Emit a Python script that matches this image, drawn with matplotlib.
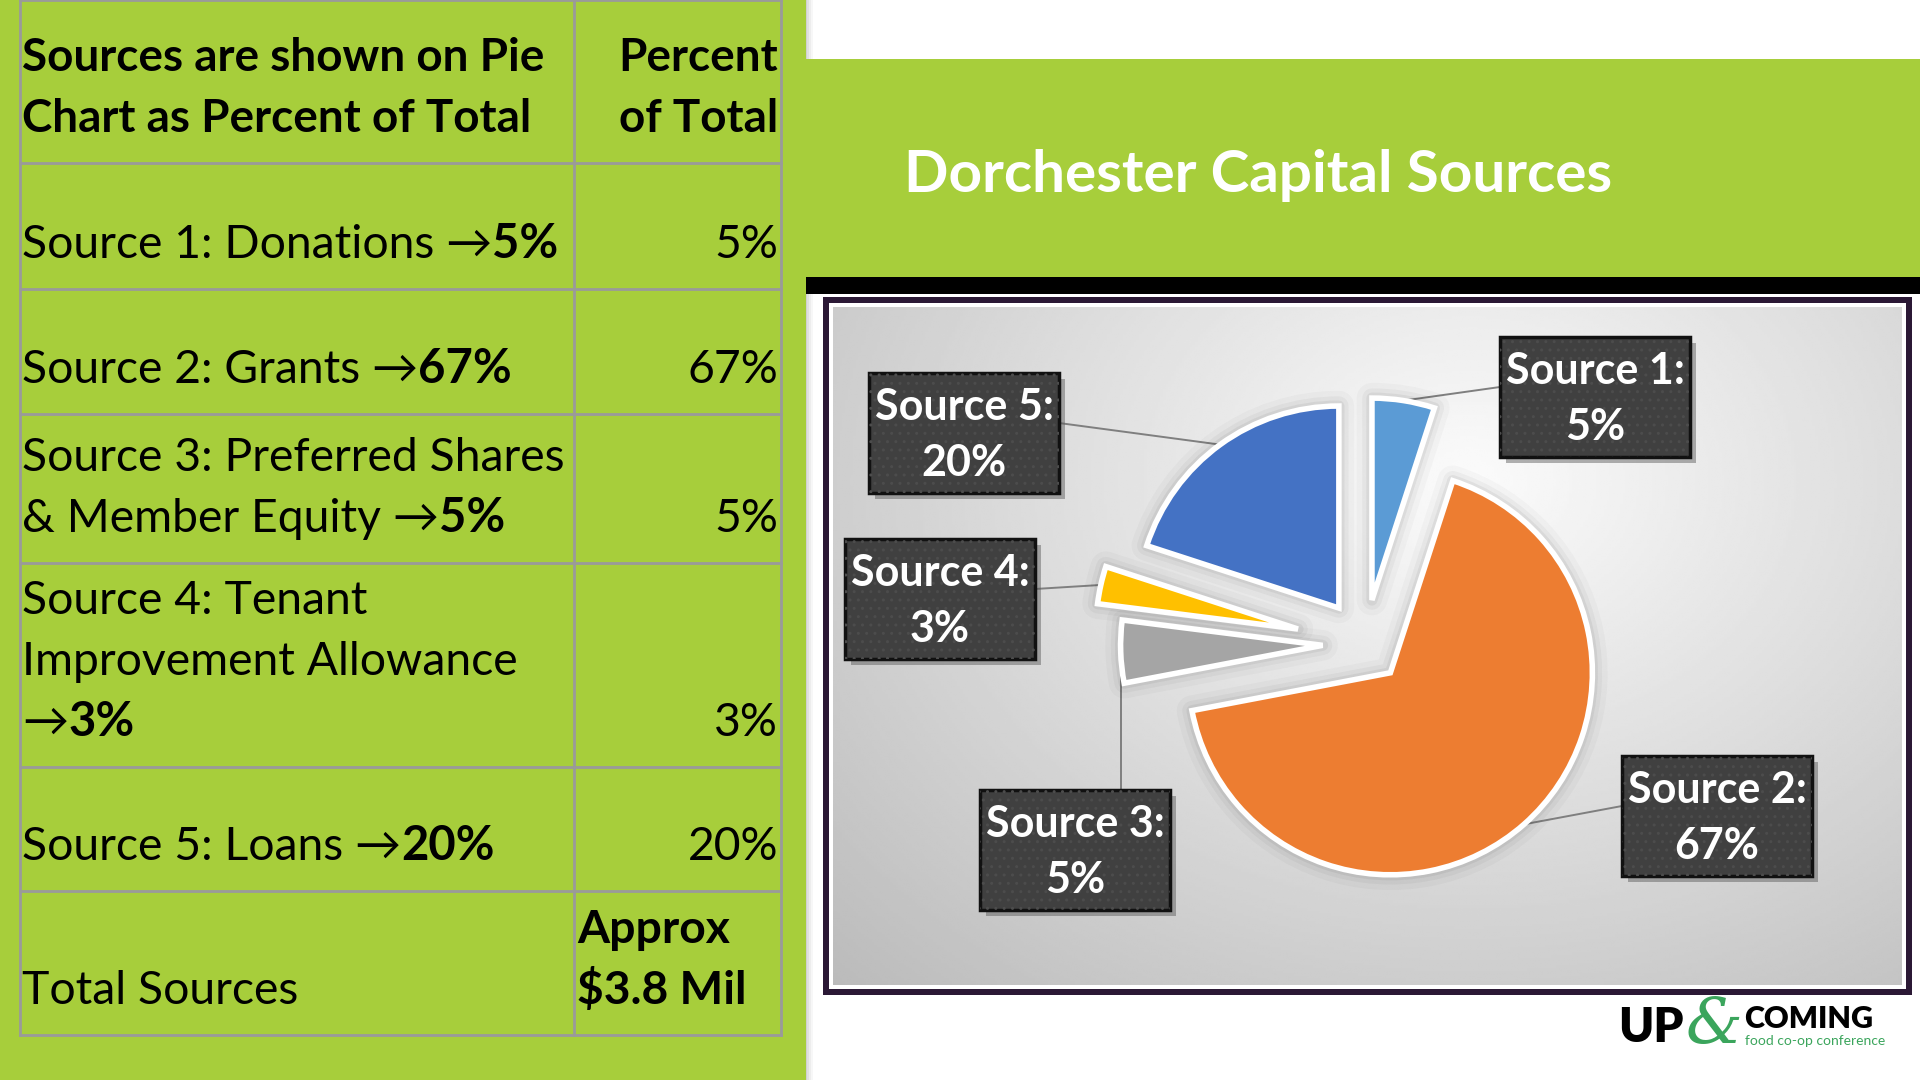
import matplotlib

matplotlib.use("Agg")
import matplotlib.pyplot as plt
import numpy as np
from matplotlib.patches import Rectangle, Wedge

W, H = 1920, 1080
FONT = ["Lato", "DejaVu Sans"]
plt.rcParams["font.family"] = FONT

# Datos
sources = ["Source 1", "Source 2", "Source 3", "Source 4", "Source 5"]
descr = ["Donations", "Grants", "Preferred Shares\n& Member Equity",
         "Tenant\nImprovement Allowance\n", "Loans"]
pct = [5, 67, 5, 3, 20]
header_left = "Sources are shown on Pie\nChart as Percent of Total"
header_right = "Percent\nof Total"
total_label = "Total Sources"
total_value = "Approx\n$3.8 Mil"
title = "Dorchester Capital Sources"

colors = ["#5B9BD5", "#ED7D31", "#A5A5A5", "#FFC000", "#4472C4"]
GREEN = "#A7CE3B"
PANEL_X = 806


def iy(y):
    # coordenadas de imagen (y hacia abajo) -> datos
    return H - y


def rect(x0, y0, x1, y1, **kw):
    return Rectangle((x0, iy(y1)), x1 - x0, y1 - y0, **kw)


fig = plt.figure(figsize=(19.2, 10.8), dpi=100)
ax = fig.add_axes([0, 0, 1, 1])
fig.patch.set_facecolor("white")

# Fondo: panel verde izquierdo, banda de titulo, barra negra
for k, a in enumerate([0.18, 0.12, 0.07, 0.03]):
    ax.add_patch(rect(PANEL_X - 1 + 2 * k, 0, PANEL_X + 1 + 2 * k, H, color="black",
                      alpha=a, lw=0, zorder=1))
ax.add_patch(rect(0, 0, PANEL_X, H, color=GREEN, lw=0, zorder=1))
ax.add_patch(rect(PANEL_X, 59, W, 277, color=GREEN, lw=0, zorder=1))
ax.add_patch(rect(PANEL_X, 277, W, 294, color="black", lw=0, zorder=1))
ax.text(904, iy(192), title, color="white", fontsize=42, fontweight="bold",
        ha="left", va="baseline", zorder=3)

# Tabla
col_x = [20, 574, 781]
row_y = [0, 163, 289, 414, 563, 767, 891, 1035]
grid = dict(color="#9a9a9a", lw=2, zorder=2)
for y in row_y:
    ax.plot([col_x[0], col_x[2]], [iy(y), iy(y)], **grid)
for x in col_x:
    ax.plot([x, x], [iy(row_y[0]), iy(row_y[-1])], **grid)

FS = 33.3
LS = 61


def cell_lines(x, bottom, lines, ha="left", weight="normal", fs=FS):
    base = bottom - 31 - LS * (len(lines) - 1)
    arts = []
    for i, line in enumerate(lines):
        arts.append(ax.text(x, iy(base + i * LS), line, fontsize=fs, fontweight=weight,
                            ha=ha, va="baseline", zorder=3))
    return arts


cell_lines(22, row_y[1], header_left.split("\n"), weight="bold", fs=33)
cell_lines(778, row_y[1], header_right.split("\n"), ha="right", weight="bold", fs=33)

for i, (src, d, p) in enumerate(zip(sources, descr, pct)):
    txt = f"{src}: {d}" + ("→" if d.endswith("\n") else " →")
    lines = txt.split("\n")
    arts = cell_lines(22, row_y[i + 2], lines)
    ax.annotate(f"{p}%", xy=(1, 0), xycoords=arts[-1], fontsize=FS + 0.7, fontweight="bold",
                ha="left", va="bottom", zorder=3)
    cell_lines(778, row_y[i + 2], [f"{p}%"], ha="right")

cell_lines(22, row_y[7], [total_label])
cell_lines(577, row_y[7], total_value.split("\n"), weight="bold")

# Marco del grafico
ax.add_patch(rect(823, 297, 1912, 995, color="#2B1835", lw=0, zorder=2))
ax.add_patch(rect(829, 303, 1906, 989, color="white", lw=0, zorder=2))
gx0, gy0, gx1, gy1 = 833, 307, 1902, 985
xx, yy = np.meshgrid(np.linspace(gx0, gx1, 400), np.linspace(gy0, gy1, 260))
dist = np.hypot((xx - 1470) / 720, (yy - 480) / 560)
shade = 0.985 - 0.2 * np.clip(dist, 0, 1.3)
ax.imshow(shade, cmap="gray", vmin=0, vmax=1, origin="upper", aspect="auto",
          extent=(gx0, gx1, iy(gy1), iy(gy0)), zorder=2, interpolation="bilinear")

# Tarta
R = 202
explode_frac = [0.22, 0.19, 0.21, 0.34, 0.22]
wedges, _ = ax.pie(pct, colors=colors, startangle=90, counterclock=False, radius=R,
                   center=(1365, iy(644)), explode=[e * R for e in explode_frac],
                   wedgeprops=dict(edgecolor="white", linewidth=4, zorder=6))

# sombra suave de los sectores
for w in wedges:
    for lw, a in [(22, 0.025), (14, 0.035), (8, 0.05)]:
        ax.add_patch(Wedge(w.center, w.r, w.theta1, w.theta2, facecolor="none",
                           edgecolor="black", lw=lw, alpha=a, zorder=5, joinstyle="round"))

# Etiquetas
BW, BH = 190, 120
label_boxes = [(1500, 337, "left"), (1622, 756, "left"), (980, 790, "top"),
               (845, 539, "right"), (869, 373, "right")]
for w, src, p, (x0, y0, side) in zip(wedges, sources, pct, label_boxes):
    th = np.deg2rad((w.theta1 + w.theta2) / 2)
    px = w.center[0] + w.r * np.cos(th)
    py = w.center[1] + w.r * np.sin(th)
    if side == "left":
        bx, by = x0, iy(y0 + 50)
    elif side == "right":
        bx, by = x0 + BW, iy(y0 + 50)
    else:
        bx, by = px, iy(y0)
    ax.plot([px, bx], [py, by], color="#7f7f7f", lw=1.4, zorder=4)
    ax.add_patch(rect(x0 + 6, y0 + 6, x0 + BW + 6, y0 + BH + 6, color="#555555",
                      alpha=0.45, lw=0, zorder=7))
    ax.add_patch(rect(x0, y0, x0 + BW, y0 + BH, facecolor="#404040",
                      edgecolor="#111111", lw=2.5, zorder=8))
    ax.add_patch(rect(x0, y0, x0 + BW, y0 + BH, facecolor="none",
                      edgecolor="#4c4c4c", hatch="..", lw=0, zorder=8))
    ax.text(x0 + BW / 2, iy(y0 + BH / 2 + 2), f"{src}:\n{p}%", color="white", fontsize=31,
            fontweight="bold", ha="center", va="center", linespacing=1.5, zorder=9)

# Logo
ax.text(1618, iy(1042), "UP", fontsize=34, fontweight="heavy", color="black",
        ha="left", va="baseline", zorder=3)
ax.text(1686, iy(1044), "&", fontsize=46, family="DejaVu Serif", style="italic",
        color="#3BA55C", ha="left", va="baseline", zorder=3)
ax.text(1744, iy(1028), "COMING", fontsize=22, fontweight="heavy", color="black",
        ha="left", va="baseline", zorder=3)
ax.text(1745, iy(1045), "food co-op conference", fontsize=10, color="#3BA55C",
        ha="left", va="baseline", zorder=3)

ax.set_xlim(0, W)
ax.set_ylim(0, H)
ax.set_aspect("auto")
ax.axis("off")
fig.savefig("out.png", dpi=100)
